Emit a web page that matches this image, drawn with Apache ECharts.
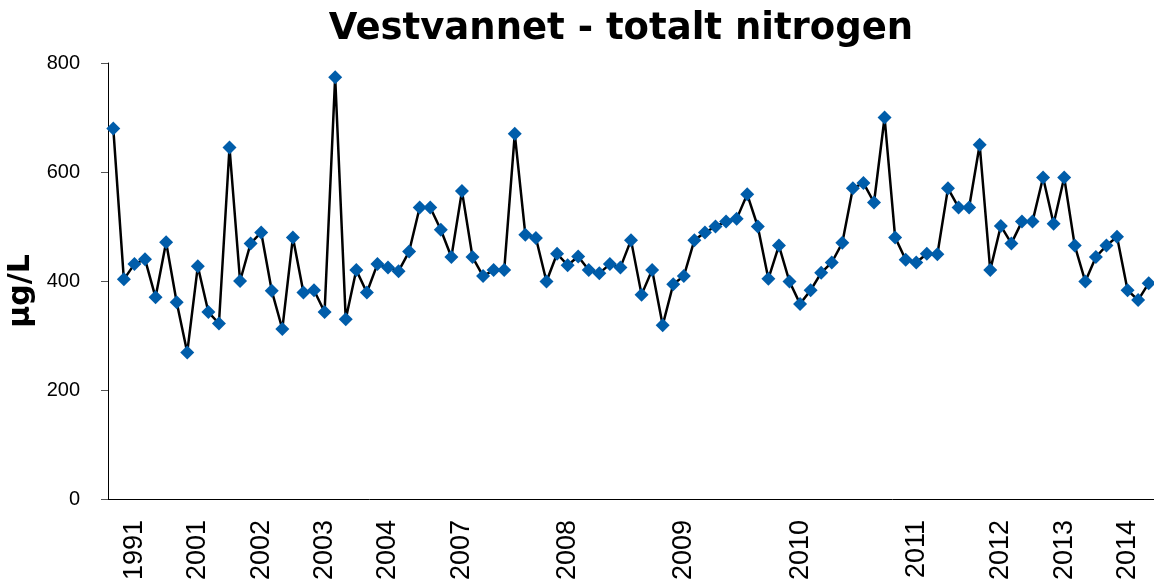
<!DOCTYPE html>
<html>
<head>
<meta charset="utf-8">
<title>Vestvannet - totalt nitrogen</title>
<script src="https://cdn.jsdelivr.net/npm/echarts@6/dist/echarts.min.js"></script>
<style>
    html, body { margin: 0; padding: 0; background: #fff; }
    #chart { width: 1154px; height: 585px; }
</style>
</head>
<body>
<div id="chart"></div>
<script>
// total nitrogen (µg/L), one value per sample
var values = [
    680, 403, 431, 440, 370, 471, 361, 269, 427, 343,
    322, 645, 400, 469, 489, 382, 312, 480, 379, 383,
    343, 774, 330, 420, 379, 431, 425, 418, 454, 535,
    535, 494, 444, 565, 444, 409, 420, 420, 670, 485,
    479, 399, 450, 429, 445, 420, 414, 431, 425, 475,
    375, 420, 319, 394, 409, 475, 489, 500, 509, 514,
    559, 500, 404, 465, 399, 358, 383, 415, 434, 470,
    570, 580, 544, 700, 480, 439, 434, 450, 449, 570,
    535, 535, 650, 420, 501, 469, 509, 509, 590, 505,
    590, 465, 399, 444, 465, 481, 383, 365, 396
];

// year labels and the sample they stand under
var yearLabels = ['1991', '2001', '2002', '2003', '2004', '2007', '2008',
                  '2009', '2010', '2011', '2012', '2013', '2014'];
var yearLabelIndex = [2, 8, 14, 20, 26, 33, 43, 54, 65, 76, 84, 90, 96];

var yTicks = [0, 200, 400, 600, 800];

// one category per sample, text only where a year label sits
var categories = values.map(function (v, i) {
    var k = yearLabelIndex.indexOf(i);
    return k >= 0 ? yearLabels[k] : '';
});

var myChart = echarts.init(document.getElementById('chart'));

var option = {
    animation: false,
    title: {
        text: 'Vestvannet - totalt nitrogen',
        left: 616,
        top: 6,
        textAlign: 'center',
        textStyle: {
            fontFamily: 'DejaVu Sans',
            fontWeight: 'bold',
            fontSize: 37,
            color: '#000'
        }
    },
    grid: {
        left: 108,
        right: 0,
        top: 63,
        bottom: 86,
        outerBoundsMode: 'none'
    },
    xAxis: {
        type: 'category',
        boundaryGap: true,
        data: categories,
        axisLine: { lineStyle: { color: '#000', width: 1 } },
        axisTick: { show: false },
        axisLabel: {
            interval: 0,
            rotate: 90,
            margin: 21,
            fontFamily: 'Liberation Sans',
            fontSize: 27,
            color: '#000'
        },
        splitLine: { show: false }
    },
    yAxis: {
        type: 'value',
        min: yTicks[0],
        max: yTicks[yTicks.length - 1],
        interval: 200,
        name: 'µg/L',
        nameLocation: 'middle',
        nameGap: 68,
        nameRotate: 90,
        nameTextStyle: {
            fontFamily: 'DejaVu Sans',
            fontWeight: 'bold',
            fontSize: 30,
            color: '#000',
            padding: [0, 20, 0, 0]
        },
        axisLine: { show: true, lineStyle: { color: '#000', width: 1 } },
        axisTick: { show: true, length: 7, lineStyle: { color: '#555' } },
        axisLabel: {
            margin: 28,
            fontFamily: 'Liberation Sans',
            fontSize: 20,
            color: '#000'
        },
        splitLine: { show: false }
    },
    series: [
        {
            name: 'totalt nitrogen',
            type: 'line',
            data: values,
            symbol: 'diamond',
            symbolSize: 14,
            lineStyle: { color: '#000', width: 2.5 },
            itemStyle: { color: '#005DAA' },
            z: 2
        }
    ]
};

myChart.setOption(option);
</script>
</body>
</html>
